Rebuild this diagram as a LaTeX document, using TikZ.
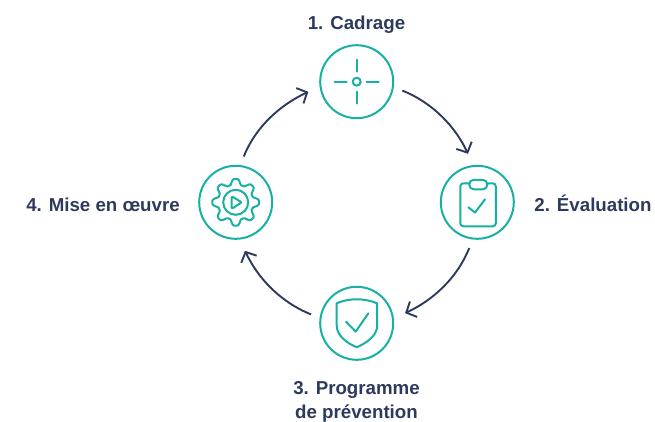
\documentclass[tikz,border=0pt]{standalone}
\usepackage{fontspec}
\setmainfont{Liberation Sans}
\usetikzlibrary{arrows.meta}
\definecolor{teal1}{HTML}{17B0A3}
\definecolor{navy1}{HTML}{2D3A5E}
\tikzset{
  step circle/.style={draw=teal1,line width=2pt,circle,minimum size=73pt,inner sep=0pt,outer sep=10pt},
  icon/.style={draw=teal1,line width=2pt,line cap=round,line join=round},
  flow/.style={draw=navy1,line width=1.9pt,shorten >=3pt,-{Straight Barb[length=8pt,width=17pt,line width=1.9pt]}},
  steplabel/.style={text=navy1,font=\fontsize{18.7}{24}\bfseries\selectfont,align=center,inner sep=0pt}
}
\begin{document}
\begin{tikzpicture}[x=1pt,y=1pt]
          \useasboundingbox (0,0) rectangle (655,421);
          \node[step circle] (cadrage) at (356.7,339.3) {};
          \node[step circle] (evaluation) at (477.3,218.7) {};
          \node[step circle] (prevention) at (356.7,97.7) {};
          \node[step circle] (oeuvre) at (235.7,218.7) {};
          \node[steplabel,anchor=base] (cadragelabel) at (356.5,391) {1. Cadrage};
          \node[steplabel,anchor=base] (evaluationlabel) at (593,209.5) {2. Évaluation};
          \node[steplabel] (preventionlabel) at (356.5,19) {3. Programme\\de prévention};
          \node[steplabel,anchor=base] (oeuvrelabel) at (103,209.5) {4. Mise en œuvre};
          \draw[flow] (cadrage.-11) to[out=-22,in=115,looseness=.9] (evaluation.100);
          \draw[flow] (evaluation.-100) to[out=-112,in=25,looseness=.9] (prevention.11);
          \draw[flow] (prevention.169) to[out=158,in=-65,looseness=.9] (oeuvre.-80);
          \draw[flow] (oeuvre.80) to[out=68,in=-155,looseness=.9] (cadrage.-169);
          % viseur
          \begin{scope}[shift={(cadrage)}]
            \draw[icon] (0,0) circle (4);
            \draw[icon] (0,10)--(0,22);
            \draw[icon] (0,-10)--(0,-22);
            \draw[icon] (-22,0)--(-10,0);
            \draw[icon] (10,0)--(22,0);
          \end{scope}
          % bloc-notes
          \begin{scope}[shift={(evaluation)}]
            \draw[icon,rounded corners=3pt] (-8,19)--(-17,19)--(-17,-24)--(18.5,-24)--(18.5,19)--(10,19);
            \draw[icon,rounded corners=4.5pt] (-8,13)rectangle(10,22.5);
            \draw[icon] (-9,-5)--(-2.3,-10.3)--(7.7,3);
          \end{scope}
          % bouclier
          \begin{scope}[shift={(prevention)}]
            \draw[icon] (0,24) .. controls (-8,24) and (-14,22.5) .. (-20,20)--(-20,-2)
              .. controls (-20,-13) and (-9,-20) .. (0,-24)
              .. controls (9,-20) and (20.5,-13) .. (20.5,-2)--(20.5,20)
              .. controls (14,22.5) and (8,24) .. (0,24)--cycle;
            \draw[icon] (-10.7,1.7)--(-1,-8.3)--(11.7,10);
          \end{scope}
          % engrenage
          \begin{scope}[shift={(oeuvre)}]
            \draw[icon] plot[domain=0:360,samples=145,smooth] ({(20.6+3.2*(cos(8*\x)-.11*cos(24*\x)))*cos(\x+90)},{(20.6+3.2*(cos(8*\x)-.11*cos(24*\x)))*sin(\x+90)})--cycle;
            \draw[icon] (0,0) circle (12.5);
            \draw[icon,rounded corners=1pt] (-4,6)--(-4,-6.5)--(6,0)--cycle;
          \end{scope}
        \end{tikzpicture}
\end{document}
